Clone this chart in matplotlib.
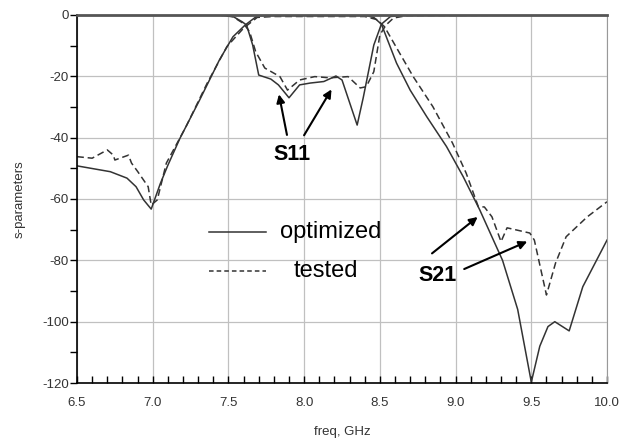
import matplotlib.pyplot as plt
from matplotlib.ticker import MultipleLocator

plt.rcParams['font.family'] = ['Liberation Sans', 'DejaVu Sans']
plt.rcParams['axes.unicode_minus'] = False

# S11 optimized (solid)
s11_opt_f = [6.5, 7.3, 7.45, 7.53, 7.59, 7.62, 7.66, 7.70, 7.78, 7.83, 7.90, 7.97,
             8.04, 8.13, 8.21, 8.25, 8.35, 8.39, 8.46, 8.51, 8.57, 8.65, 10.0]
s11_opt_v = [0, 0, -0.1, -0.5, -2.2, -3.3, -9.8, -19.6, -20.9, -22.8, -27, -22.8,
             -22.2, -21.7, -19.9, -21.2, -35.9, -27, -9.8, -3, -0.5, -0.1, 0]

# S11 tested (dashed)
s11_tst_f = [6.5, 7.3, 7.45, 7.53, 7.6, 7.64, 7.68, 7.74, 7.84, 7.89, 7.97, 8.07,
             8.17, 8.29, 8.37, 8.41, 8.46, 8.50, 8.54, 8.59, 8.68, 10.0]
s11_tst_v = [0, 0, -0.1, -0.6, -2.8, -5.5, -12.0, -17.3, -20.1, -24.5, -21.2, -20.1,
             -20.5, -20.1, -23.8, -23.4, -18.5, -6.5, -3.3, -1, -0.2, 0]

# S21 optimized (solid)
s21_opt_f = [6.5, 6.72, 6.83, 6.89, 6.94, 6.99, 7.05, 7.10, 7.18, 7.31, 7.44, 7.53,
             7.61, 7.69, 7.8, 8.4, 8.46, 8.51, 8.61, 8.70, 8.81, 8.94, 9.05, 9.16,
             9.31, 9.41, 9.5, 9.556, 9.61, 9.655, 9.75, 9.84, 10.0]
s21_opt_v = [-49.2, -51.1, -53.2, -56, -60.3, -63.3, -55, -49, -40.2, -27.7, -14.7, -7.1,
             -3.3, -0.3, -0.1, -0.1, -0.8, -3, -15.7, -24.5, -33.2, -42.9, -52.7, -63.6,
             -80, -96, -119.7, -108, -101.6, -100, -103, -88.6, -73.4]

# S21 tested (dashed)
s21_tst_f = [6.5, 6.6, 6.7, 6.74, 6.75, 6.84, 6.86, 6.9, 6.97, 6.99, 7.03, 7.09,
             7.22, 7.36, 7.49, 7.6, 7.69, 7.8, 8.4, 8.48, 8.53, 8.63, 8.72, 8.85,
             8.98, 9.07, 9.15, 9.19, 9.24, 9.3, 9.34, 9.49, 9.52, 9.6, 9.66, 9.73,
             9.87, 10.0]
s21_tst_v = [-46.2, -46.7, -44, -45.7, -47.3, -45.7, -48.3, -51, -56, -62, -60.3, -48.3,
             -36.4, -22.2, -10.3, -4.3, -0.8, -0.5, -0.5, -1.5, -3.8, -12.4, -20.1, -29.9,
             -41.8, -51.6, -62.5, -62.6, -65.8, -73.9, -69.4, -71.1, -73.4, -91.3, -80.9, -72.3,
             -65.8, -60.9]

line_col = "#333333"
dash = (0, (4.5, 2.5))

fig = plt.figure(figsize=(6.21, 4.4), dpi=100)
ax = fig.add_axes([0.124, 0.1295, 0.8535, 0.8365])

ax.plot(s21_opt_f, s21_opt_v, color=line_col, lw=1.1)
ax.plot(s11_opt_f, s11_opt_v, color=line_col, lw=1.1)
ax.plot(s21_tst_f, s21_tst_v, color=line_col, lw=1.1, linestyle=dash)
ax.plot(s11_tst_f, s11_tst_v, color=line_col, lw=1.1, linestyle=dash)

ax.set_xlim(6.5, 10.0)
ax.set_ylim(-120, 0)
ax.xaxis.set_major_locator(MultipleLocator(0.5))
ax.xaxis.set_minor_locator(MultipleLocator(0.1))
ax.yaxis.set_major_locator(MultipleLocator(20))
ax.yaxis.set_minor_locator(MultipleLocator(10))
ax.xaxis.set_major_formatter(lambda v, p: f"{v:.1f}")
ax.grid(True, which="major", color="#c0c0c0", lw=0.9)
ax.set_axisbelow(True)

ax.tick_params(axis="x", which="both", direction="in", length=5, width=1,
               labelsize=9.5, colors="black", labelcolor="#333333", pad=10)
ax.tick_params(axis="y", which="both", direction="out", length=5, width=1,
               labelsize=9.5, labelcolor="#333333", pad=1)
for s in ["left", "bottom"]:
    ax.spines[s].set_color("black")
    ax.spines[s].set_linewidth(1.2)
ax.spines["right"].set_color("#999999")
ax.spines["top"].set_color("#555555")
ax.spines["top"].set_linewidth(2)

ax.set_xlabel("freq, GHz", fontsize=9.5, color="#333333", labelpad=12)
ax.set_ylabel("s-parameters", fontsize=9.5, color="#333333", labelpad=12)

# legend drawn by hand inside the plot
ax.plot([7.37, 7.745], [-70.6, -70.6], color=line_col, lw=1.1)
ax.plot([7.37, 7.745], [-83.6, -83.6], color=line_col, lw=1.1, linestyle=(0, (3, 2)))
ax.text(7.84, -70.6, "optimized", fontsize=17, va="center", ha="left")
ax.text(7.93, -83.6, "tested", fontsize=17, va="center", ha="left")

# annotations
arr = dict(arrowstyle="-|>", color="black", lw=1.5, mutation_scale=12)
ax.text(7.92, -45.5, "S11", fontsize=15.5, fontweight="bold", ha="center", va="center")
ax.annotate("", xy=(7.83, -25), xytext=(7.89, -40.0), arrowprops=arr)
ax.annotate("", xy=(8.19, -23.5), xytext=(7.99, -40.0), arrowprops=arr)
ax.text(8.88, -84.8, "S21", fontsize=15.5, fontweight="bold", ha="center", va="center")
ax.annotate("", xy=(9.16, -65.3), xytext=(8.83, -78.3), arrowprops=arr)
ax.annotate("", xy=(9.49, -73.5), xytext=(9.04, -83.2), arrowprops=arr)

fig.savefig("out.png", dpi=100)
